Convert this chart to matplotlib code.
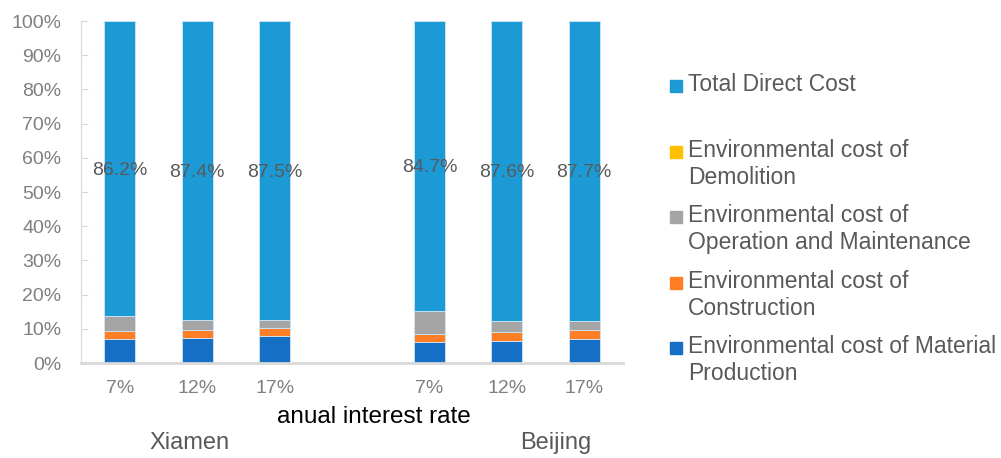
import matplotlib.pyplot as plt
import numpy as np
from matplotlib.patches import Rectangle

# --- dados (percentuais de cada componente do custo) ---
cidades = ['Xiamen', 'Beijing']
taxas = ['7%', '12%', '17%', '', '7%', '12%', '17%']
posicoes = [0, 1, 2, 4, 5, 6]

producao_material = [6.9, 7.3, 7.9, 6.0, 6.5, 7.1]
construcao = [2.4, 2.4, 2.4, 2.6, 2.5, 2.6]
operacao_manutencao = [4.5, 2.9, 2.2, 6.7, 3.4, 2.6]
demolicao = [0.0, 0.0, 0.0, 0.0, 0.0, 0.0]
custo_direto = [86.2, 87.4, 87.5, 84.7, 87.6, 87.7]

series = [
    ('Environmental cost of Material\nProduction', producao_material, '#1570C5'),
    ('Environmental cost of\nConstruction', construcao, '#FD7E25'),
    ('Environmental cost of\nOperation and Maintenance', operacao_manutencao, '#A5A5A5'),
    ('Environmental cost of\nDemolition', demolicao, '#FFC000'),
    ('Total Direct Cost', custo_direto, '#1C9AD6'),
]

plt.rcParams['font.family'] = ['Liberation Sans', 'DejaVu Sans']

fig = plt.figure(figsize=(10.01, 4.58), dpi=100)
ax = fig.add_axes([0.0809, 0.2074, 0.5415, 0.7467])

base = np.zeros(len(posicoes))
for nome, valores, cor in series:
    ax.bar(posicoes, valores, width=0.4, bottom=base, color=cor,
           edgecolor='#CFE6F5', linewidth=0.6)
    base = base + np.array(valores)

# rótulos do custo direto no meio do segmento
inicio = np.array(producao_material) + np.array(construcao) + np.array(operacao_manutencao) + np.array(demolicao)
for x, b, v in zip(posicoes, inicio, custo_direto):
    ax.text(x, b + v / 2, f'{v:.1f}%', ha='center', va='center_baseline',
            fontsize=14, color='#595959')

ax.set_xlim(-0.5, 6.5)
ax.set_ylim(0, 100)
ax.set_yticks(np.arange(0, 101, 10))
ax.set_yticklabels([f'{t}%' for t in range(0, 101, 10)])
ax.set_xticks(range(7))
ax.set_xticklabels(taxas)
ax.tick_params(axis='y', direction='in', length=5, color='#D9D9D9',
               labelsize=14, labelcolor='#7F7F7F', pad=14)
ax.tick_params(axis='x', length=0, labelsize=14, labelcolor='#7F7F7F', pad=12)

for lado in ['top', 'right']:
    ax.spines[lado].set_visible(False)
ax.spines['left'].set_color('#D9D9D9')
ax.spines['bottom'].set_color('#D9D9D9')
ax.spines['bottom'].set_linewidth(2)

fig.text(0.374, 1 - 417 / 458, 'anual interest rate', ha='center', va='center',
         fontsize=17.5, color='black')
fig.text(190 / 1001, 1 - 443 / 458, cidades[0], ha='center', va='center',
         fontsize=17, color='#595959')
fig.text(556 / 1001, 1 - 443 / 458, cidades[1], ha='center', va='center',
         fontsize=17, color='#595959')

# legenda manual (marcador alinhado com a primeira linha)
legenda_y = [86, 152, 217, 283, 348]
for (nome, valores, cor), y in zip(series[::-1], legenda_y):
    fig.patches.append(Rectangle((670 / 1001, 1 - (y + 6) / 458), 12 / 1001, 12 / 458,
                                 transform=fig.transFigure, color=cor))
    fig.text(688 / 1001, 1 - (y - 13) / 458, nome, ha='left', va='top',
             fontsize=16.5, color='#595959', linespacing=1.24)

plt.savefig('out.png', dpi=100)
